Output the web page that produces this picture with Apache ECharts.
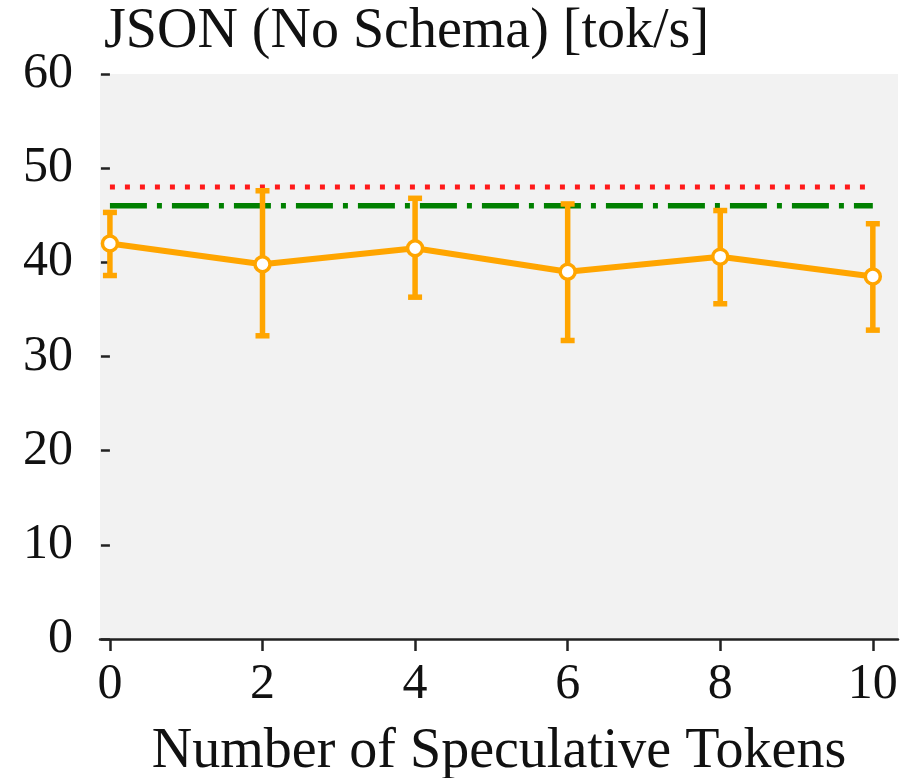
<!DOCTYPE html>
<html><head><meta charset="utf-8">
<script src="https://cdn.jsdelivr.net/npm/echarts@6/dist/echarts.min.js"></script>
<style>html,body{margin:0;padding:0;background:#fff}#c{width:913px;height:778px}</style>
</head><body><div id="c"></div>
<script>
const tokens = [0, 2, 4, 6, 8, 10];
const meanSpeed = [42.0, 39.8, 41.5, 39.0, 40.6, 38.5];
const errLow = [38.6, 32.2, 36.3, 31.7, 35.6, 32.8];
const errHigh = [45.3, 47.6, 46.8, 46.2, 45.5, 44.1];
const refRedY = 48.0;
const refGreenY = 46.0;
const refXRange = [0, 10];
const xTicks = [0, 2, 4, 6, 8, 10];
const yTicks = [0, 10, 20, 30, 40, 50, 60];

const FONT = '"Liberation Serif", "DejaVu Serif", serif';
const ORANGE = '#FFA500';

const chart = echarts.init(document.getElementById('c'), null, {renderer: 'canvas'});
chart.setOption({
  animation: false,
  backgroundColor: '#ffffff',
  title: {
    text: 'JSON (No Schema) [tok/s]',
    left: 99, top: -1,
    textStyle: {fontFamily: FONT, fontSize: 56, fontWeight: 'normal', color: '#111'}
  },
  grid: {
    left: 100, right: 15, top: 74, bottom: 139,
    outerBoundsMode: 'none', containLabel: false,
    show: true, backgroundColor: '#f2f2f2', borderWidth: 0
  },
  xAxis: {
    type: 'value', min: -0.13, max: 10.33,
    name: 'Number of Speculative Tokens', nameLocation: 'middle', nameGap: 85,
    nameTextStyle: {fontFamily: FONT, fontSize: 56, color: '#111'},
    axisLine: {show: true, lineStyle: {color: '#222', width: 2.5}},
    axisTick: {show: true, length: 12, lineStyle: {color: '#222', width: 2.5}, customValues: xTicks},
    axisLabel: {fontFamily: FONT, fontSize: 50, color: '#111', margin: 21, customValues: xTicks},
    splitLine: {show: false}
  },
  yAxis: {
    type: 'value', min: 0, max: 60, interval: 10,
    offset: 3,
    axisLine: {show: false},
    axisTick: {show: true, length: 9, lineStyle: {color: '#222', width: 2.5}, customValues: yTicks},
    axisLabel: {fontFamily: FONT, fontSize: 50, color: '#111', margin: 24, customValues: yTicks},
    splitLine: {show: false}
  },
  series: [
    {
      type: 'line', z: 1, symbol: 'none', silent: true,
      data: refXRange.map(x => [x, refRedY]),
      lineStyle: {color: '#ff1a1a', width: 5, type: [5, 10]}
    },
    {
      type: 'line', z: 1, symbol: 'none', silent: true,
      data: refXRange.map(x => [x, refGreenY]),
      lineStyle: {color: '#008000', width: 5.5, type: [37, 10, 5, 10]}
    },
    {
      type: 'custom', z: 2, silent: true,
      data: tokens.map((x, i) => [x, errLow[i], errHigh[i]]),
      renderItem: function (params, api) {
        const x = api.value(0);
        const lo = api.coord([x, api.value(1)]);
        const hi = api.coord([x, api.value(2)]);
        const hw = 7;
        const st = {stroke: ORANGE, lineWidth: 5.5};
        return {
          type: 'group',
          children: [
            {type: 'line', shape: {x1: lo[0], y1: lo[1], x2: hi[0], y2: hi[1]}, style: st},
            {type: 'line', shape: {x1: lo[0] - hw, y1: lo[1], x2: lo[0] + hw, y2: lo[1]}, style: st},
            {type: 'line', shape: {x1: hi[0] - hw, y1: hi[1], x2: hi[0] + hw, y2: hi[1]}, style: st}
          ]
        };
      }
    },
    {
      type: 'line', z: 3,
      data: tokens.map((x, i) => [x, meanSpeed[i]]),
      lineStyle: {color: ORANGE, width: 6},
      symbol: 'circle', symbolSize: 15,
      itemStyle: {color: '#ffffff', borderColor: ORANGE, borderWidth: 3.5}
    }
  ]
});
</script></body></html>
